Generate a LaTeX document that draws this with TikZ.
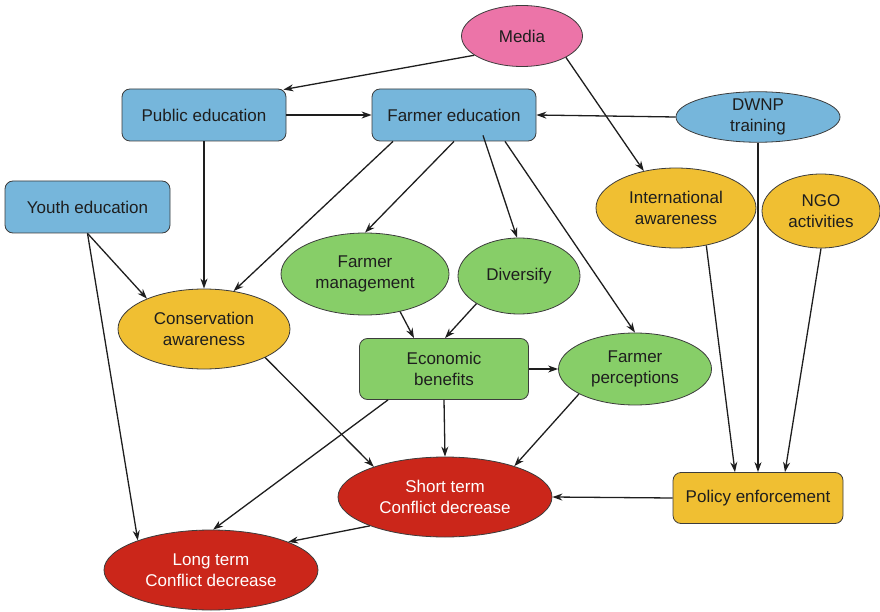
\documentclass[tikz,border=0pt]{standalone}
\usepackage{fontspec}
\setmainfont{Liberation Sans}
\usetikzlibrary{shapes.geometric,arrows.meta}

\definecolor{edublue}{RGB}{118,182,219}
\definecolor{mediapink}{RGB}{236,116,168}
\definecolor{awareyellow}{RGB}{240,191,50}
\definecolor{econgreen}{RGB}{135,206,104}
\definecolor{conflictred}{RGB}{203,38,26}
\definecolor{outline}{RGB}{60,60,60}
\definecolor{ink}{RGB}{30,30,30}

\tikzset{
  base/.style={draw=outline, line width=0.8pt, inner sep=0pt, align=center,
    text=ink, font=\fontsize{17}{20.5}\selectfont},
  boxnode/.style={base, rectangle, rounded corners=8pt},
  ovalnode/.style={base, ellipse},
  link/.style={draw=ink, line width=1.3pt, -{Stealth[length=10pt,width=7pt]}},
}

\begin{document}
\begin{tikzpicture}[x=1pt,y=-1pt]
\useasboundingbox (0,0) rectangle (880,612);

% education sources
\node[ovalnode, fill=mediapink, minimum width=121pt, minimum height=61pt] (media) at (522,36) {Media};
\node[boxnode, fill=edublue, minimum width=164pt, minimum height=52pt] (pub) at (204,115) {Public education};
\node[boxnode, fill=edublue, minimum width=164pt, minimum height=52pt] (fed) at (454,115) {Farmer education};
\node[ovalnode, fill=edublue, minimum width=164pt, minimum height=50pt] (dwnp) at (758,117) {DWNP\\training};
\node[boxnode, fill=edublue, minimum width=165pt, minimum height=52pt] (youth) at (87.5,207) {Youth education};

% awareness and activities
\node[ovalnode, fill=awareyellow, minimum width=160pt, minimum height=80pt] (intl) at (676,208) {International\\awareness};
\node[ovalnode, fill=awareyellow, minimum width=118pt, minimum height=74pt] (ngo) at (821,211) {NGO\\activities};
\node[ovalnode, fill=awareyellow, minimum width=172pt, minimum height=80pt] (cons) at (204,329) {Conservation\\awareness};
\node[boxnode, fill=awareyellow, minimum width=170pt, minimum height=51pt] (pol) at (758,498) {Policy enforcement};

% farm economics
\node[ovalnode, fill=econgreen, minimum width=168pt, minimum height=82pt] (fman) at (365,274) {Farmer\\management};
\node[ovalnode, fill=econgreen, minimum width=122pt, minimum height=76pt] (div) at (519,276) {Diversify};
\node[boxnode, fill=econgreen, minimum width=169pt, minimum height=61pt] (econ) at (444,369) {Economic\\benefits};
\node[ovalnode, fill=econgreen, minimum width=153pt, minimum height=72pt] (fperc) at (635,369) {Farmer\\perceptions};

% outcomes
\node[ovalnode, fill=conflictred, text=white, minimum width=214pt, minimum height=80pt] (short) at (445,497) {Short term\\Conflict decrease};
\node[ovalnode, fill=conflictred, text=white, minimum width=214pt, minimum height=80pt] (long) at (211,570) {Long term\\Conflict decrease};

% connectors
\draw[link] (media.202) -- ([xshift=-3pt,yshift=-1pt]pub.north east);
\draw[link] (media.-26) -- (intl.131);
\draw[link] (pub.east) -- (fed.west);
\draw[link] (dwnp.west) -- (fed.east);
\draw[link] (dwnp.south) -- (pol.north);
\draw[link] (pub.south) -- (cons.north);
\draw[link] ([xshift=-61pt]fed.south) -- (cons.52);
\draw[link] (fed.south) -- (fman.north);
\draw[link] ([xshift=29pt,yshift=6pt]fed.south) -- (div.93);
\draw[link] ([xshift=51pt]fed.south) -- (fperc.north);
\draw[link] (youth.south) -- (cons.152);
\draw[link] (youth.south) -- (long.158);
\draw[link] (fman.-47) -- ([xshift=-30pt]econ.north);
\draw[link] (div.213) -- ([xshift=1pt]econ.north);
\draw[link] (econ.east) -- (fperc.west);
\draw[link] (econ.south) -- (short.north);
\draw[link] ([xshift=-56pt]econ.south) -- (long.87);
\draw[link] (cons.-25) -- (short.157);
\draw[link] (fperc.204) -- (short.24);
\draw[link] (intl.-51) -- ([xshift=-23pt]pol.north);
\draw[link] (ngo.south) -- ([xshift=27pt]pol.north);
\draw[link] (pol.west) -- (short.east);
\draw[link] (short.201) -- (long.20);
\end{tikzpicture}
\end{document}
